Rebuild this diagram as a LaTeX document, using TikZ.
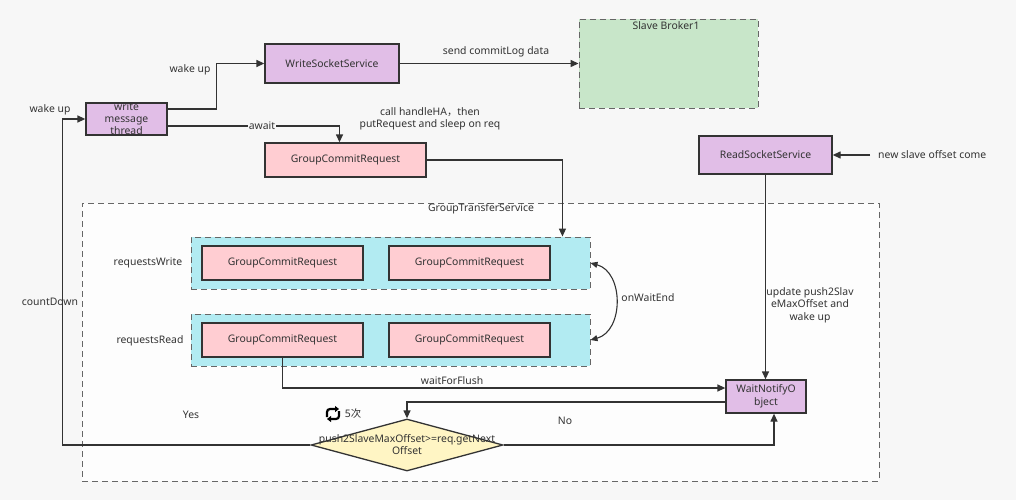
\documentclass[tikz,border=0pt]{standalone}
\usepackage{fontspec}
\setmainfont{Noto Sans}
\newfontfamily\cjk{Noto Sans CJK SC}
\usetikzlibrary{arrows.meta,shapes.geometric,calc}
\definecolor{bg}{HTML}{F7F7F7}
\definecolor{inner}{HTML}{FDFDFD}
\definecolor{lc}{HTML}{333333}
\definecolor{tc}{HTML}{333333}
\definecolor{lav}{HTML}{E1BEE7}
\definecolor{pinkc}{HTML}{FFCDD2}
\definecolor{cyanc}{HTML}{B2EBF2}
\definecolor{greenc}{HTML}{C8E6C9}
\definecolor{yell}{HTML}{FFF5C4}
\definecolor{dashc}{HTML}{666666}
\tikzset{
  txt/.style={font=\fontsize{10.4}{12.5}\selectfont, text=tc, inner sep=1pt, align=center},
  box/.style={draw=lc, line width=1.3pt, inner sep=0pt, txt},
  lavbox/.style={box, fill=lav},
  pinkbox/.style={box, fill=pinkc},
  cont/.style={draw=dashc, dash pattern=on 6pt off 4pt, line width=0.9pt, inner sep=0pt},
  arr/.style={draw=lc, line width=1.3pt, -{Triangle[length=8pt,width=7pt]}},
  icn/.style={draw=black, line width=2.2pt, rounded corners=3pt, -{Triangle[length=4pt,width=6pt]}},
}
\begin{document}
\begin{tikzpicture}[x=1pt,y=-1pt]
\fill[bg] (0,0) rectangle (1016,500);
\useasboundingbox (0,0) rectangle (1016,500);

% containers
\node[cont, fill=inner, minimum width=797pt, minimum height=278pt] (gts) at (480.5,342) {};
\node[txt] (gtsl) at (481,209) {GroupTransferService};
\node[cont, fill=greenc, minimum width=179pt, minimum height=89pt] (slave) at (668.5,63.5) {};
\node[txt] (slavel) at (666,26) {Slave Broker1};
\node[cont, fill=cyanc, minimum width=399pt, minimum height=52pt] (rw) at (390.5,263) {};
\node[cont, fill=cyanc, minimum width=399pt, minimum height=52pt] (rr) at (390.5,340) {};
\node[txt] (rwl) at (148,263) {requestsWrite};
\node[txt] (rrl) at (150,341) {requestsRead};

% boxes
\node[lavbox, minimum width=81pt, minimum height=32pt] (wmt) at (126.5,119) {};
\node[txt, font=\fontsize{10.4}{12}\selectfont] (wmtl) at (126.5,119) {write\\message\\thread};
\node[lavbox, minimum width=134pt, minimum height=39pt] (wss) at (332,63.5) {WriteSocketService};
\node[pinkbox, minimum width=161pt, minimum height=34pt] (gcr0) at (345.5,160) {GroupCommitRequest};
\node[lavbox, minimum width=133pt, minimum height=38pt] (rss) at (765.5,155) {ReadSocketService};
\node[pinkbox, minimum width=161pt, minimum height=34pt] (g1) at (282.5,263) {GroupCommitRequest};
\node[pinkbox, minimum width=161pt, minimum height=34pt] (g2) at (469.5,263) {GroupCommitRequest};
\node[pinkbox, minimum width=161pt, minimum height=34pt] (g3) at (282.5,340) {GroupCommitRequest};
\node[pinkbox, minimum width=161pt, minimum height=34pt] (g4) at (469.5,340) {GroupCommitRequest};
\node[lavbox, minimum width=80pt, minimum height=33pt] (wno) at (766,396.5) {WaitNotifyO\\bject};
\node[draw=lc, line width=1.3pt, fill=yell, shape=diamond, inner sep=0pt, minimum width=192pt, minimum height=52pt] (dia) at (407,445) {};
\node[txt, font=\fontsize{10.4}{12}\selectfont] (dial) at (407,445) {push2SlaveMaxOffset>=req.getNext\\Offset};

% connectors
\draw[arr] ([yshift=10pt]wmt.east) -- ++(49pt,0) |- (wss.west);
\node[txt] (wul) at (190,70) {wake up};
\draw[arr] (wss.east) -- (slave.west);
\node[txt] (scl) at (496,52) {send commitLog data};
\draw[arr] ([yshift=-7pt]wmt.east) -| ([xshift=-6pt]gcr0.north);
\node[txt, fill=bg, inner sep=0.5pt] (awl) at (262,126) {await};
\node[txt] (chl) at (430,119) {call handleHA{\cjk ，}then\\putRequest and sleep on req};
\draw[arr] (gcr0.east) -| ([xshift=-28pt]rw.north east);
\coordinate (nsc) at (870,155);
\draw[arr] (nsc) -- (rss.east);
\node[txt, anchor=west] (nscl) at (877,155) {new slave offset come};
\draw[arr] (rss.south) -- (rss.south |- wno.north);
\node[txt] (upl) at (810,305) {update push2Slav\\eMaxOffset and\\wake up};
\draw[line width=1.1pt, draw=lc, {Triangle[length=7pt,width=6pt]}-{Triangle[length=7pt,width=6pt]}] (rw.east) .. controls (624,272) and (624,331) .. (rr.east);
\node[txt] (owl) at (648,298) {onWaitEnd};
\draw[arr] (g3.south) |- ([yshift=8.5pt]wno.west);
\node[txt] (wfl) at (452,381) {waitForFlush};
\draw[arr] ([yshift=-5.5pt]wno.west) -| (dia.north);
\draw[arr] (dia.east) -| ([xshift=8pt]wno.south);
\node[txt] (nol) at (565,421) {No};
\draw[arr] (dia.west) -- ++(-248pt,0) |- (wmt.west);
\node[txt] (yesl) at (191,415) {Yes};
\node[txt] (cdl) at (50,302) {countDown};
\node[txt] (wul2) at (50,110) {wake up};
% repeat icon
\coordinate (icon) at (333,414);
\draw[icn] ([shift={(-6pt,-3pt)}]icon) -- ([shift={(-6pt,5pt)}]icon) -- ([shift={(6pt,5pt)}]icon);
\draw[icn] ([shift={(6pt,3pt)}]icon) -- ([shift={(6pt,-5pt)}]icon) -- ([shift={(-6pt,-5pt)}]icon);
\node[txt] (fivel) at (353,414) {5{\cjk 次}};
\end{tikzpicture}
\end{document}
